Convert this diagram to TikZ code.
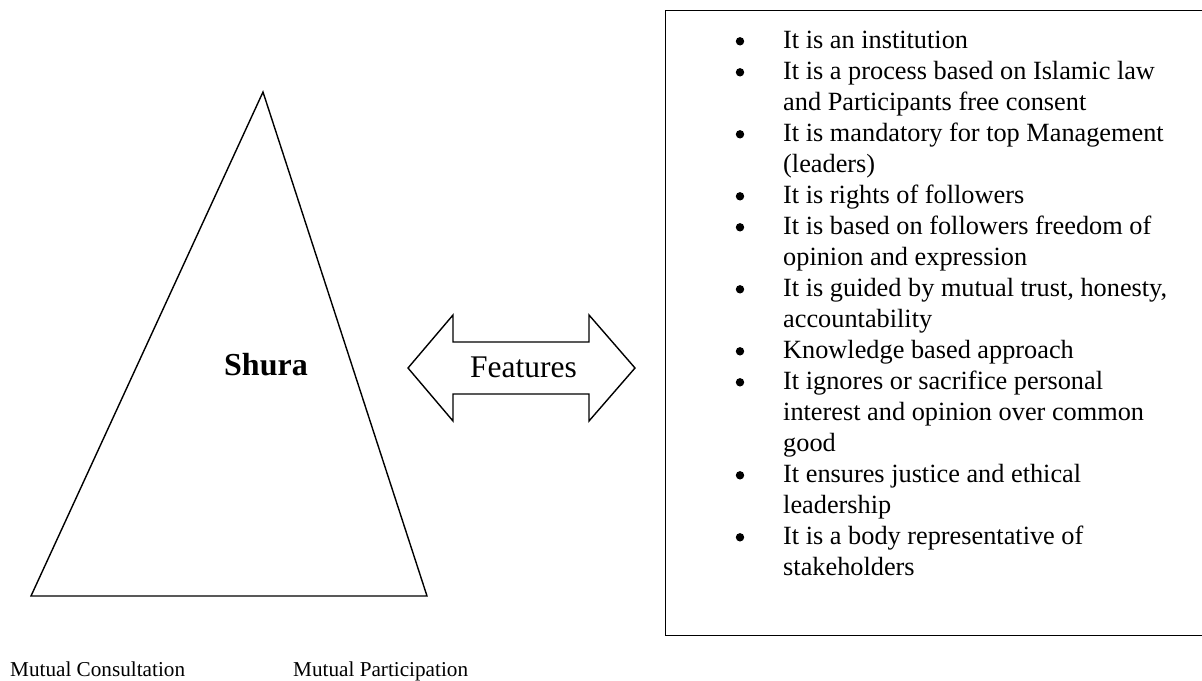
\documentclass[tikz,border=0pt]{standalone}
\usepackage{fontspec}
\setmainfont{Liberation Serif}
\begin{document}
\begin{tikzpicture}[x=1pt,y=-1pt,
  shape line/.style={draw=black,line width=1.4pt,line join=miter},
  listtext/.style={anchor=base west,inner sep=0pt,align=left,
    font=\fontsize{26.3}{31}\selectfont},
  bul/.style={circle,fill=black,inner sep=0pt,minimum size=8.4pt},
  bigtext/.style={anchor=base,inner sep=0pt,font=\fontsize{31.5}{36}\selectfont},
  smalltext/.style={anchor=base west,inner sep=0pt,font=\fontsize{21.2}{25}\selectfont}]
\useasboundingbox (0,0) rectangle (1202,680);
\clip (0,0) rectangle (1202,680);
% triangle
\coordinate (apex) at (263,92);
\coordinate (bl) at (31,596);
\coordinate (br) at (427,596);
\draw[shape line] (apex) -- (bl) -- (br) -- cycle;
\node[bigtext,font=\fontsize{32}{36}\selectfont\bfseries] (shura) at (266,375) {Shura};
% double arrow
\draw[shape line] (408,368) -- (453,315) -- (453,342) -- (589,342) -- (589,315)
  -- (635,368) -- (589,421) -- (589,394) -- (453,394) -- (453,421) -- cycle;
\node[bigtext] (features) at (523.5,377) {Features};
% box
\node[draw=black,line width=1.4pt,anchor=north west,minimum width=545pt,
  minimum height=625pt,inner sep=0pt] (box) at (665,10) {};
% bullets
\foreach \k/\n in {0/b1,1/b2,3/b3,5/b4,6/b5,8/b6,10/b7,11/b8,14/b9,16/b10}{
  \node[bul] (\n) at (740,{48+31*\k-6.7}) {};
}
% list items (anchored at the baseline of their last line)
\node[listtext] (i1) at (783,48) {It is an institution};
\node[listtext] (i2) at (783,110) {It is a process based on Islamic law\\and Participants free consent};
\node[listtext] (i3) at (783,172) {It is mandatory for top Management\\(leaders)};
\node[listtext] (i4) at (783,203) {It is rights of followers};
\node[listtext] (i5) at (783,265) {It is based on followers freedom of\\opinion and expression};
\node[listtext] (i6) at (783,327) {It is guided by mutual trust, honesty,\\accountability};
\node[listtext] (i7) at (783,358) {Knowledge based approach};
\node[listtext] (i8) at (783,451) {It ignores or sacrifice personal\\interest and opinion over common\\good};
\node[listtext] (i9) at (783,513) {It ensures justice and ethical\\leadership};
\node[listtext] (i10) at (783,575) {It is a body representative of\\stakeholders};
% bottom labels
\node[smalltext] (mc) at (10,676) {Mutual Consultation};
\node[smalltext] (mp) at (293,676) {Mutual Participation};
\end{tikzpicture}
\end{document}
